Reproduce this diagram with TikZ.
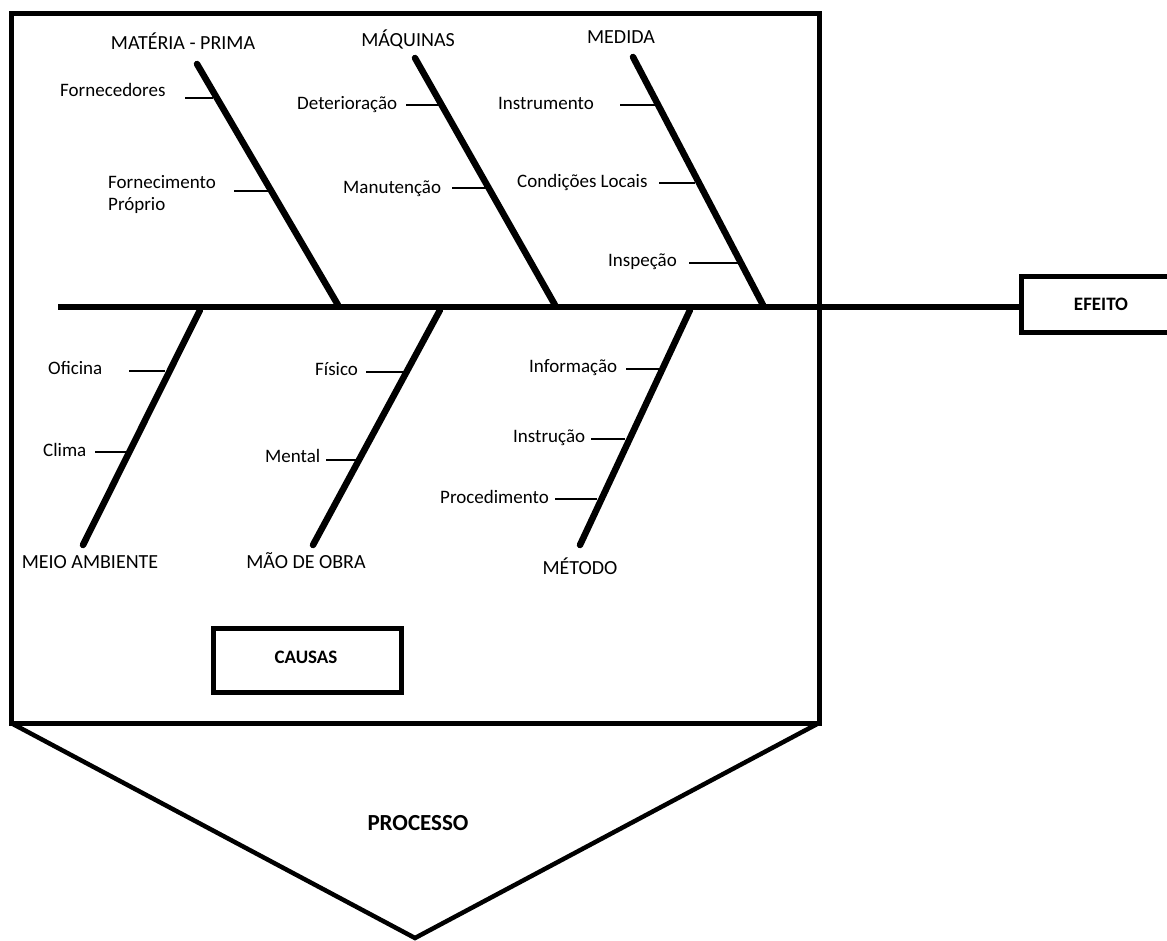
\documentclass[tikz,border=0pt]{standalone}
\usepackage{fontspec}
\setmainfont{Carlito}
\begin{document}
\begin{tikzpicture}[x=1pt,y=-1pt,
  frame/.style={line width=5pt},
  bone/.style={line width=6.5pt,line cap=round},
  spine/.style={line width=6pt},
  tick/.style={line width=1.4pt},
  sub/.style={font=\fontsize{19}{22}\selectfont,anchor=west,inner sep=0pt,text height=1.15em,text depth=0.03em},
  cat/.style={font=\fontsize{20}{24}\selectfont,inner sep=0pt,text height=1.15em,text depth=0.03em},
  boldbox/.style={draw,line width=5pt,font=\bfseries\fontsize{19}{22}\selectfont,inner sep=0pt}]
\useasboundingbox (0,0) rectangle (1167,940);
\clip (0,0) rectangle (1167,940);

% frame and process shape
\coordinate (fTL) at (11,13);
\coordinate (fBR) at (819,723);
\coordinate (fBL) at (11,723);
\coordinate (fTR) at (819,13);
\coordinate (tip) at (415,938);
\draw[frame] (fTL) rectangle (fBR);
\draw[line width=4.5pt,line join=miter] (fBL) -- (tip) -- (fTR |- fBL);
\node[font=\bfseries\fontsize{23}{26}\selectfont] (processo) at (418,823) {PROCESSO};

% effect and spine
\node[boldbox,minimum width=160pt,minimum height=56pt] (efeito) at (1101,304) {EFEITO};
\coordinate (tail) at (58,307);
\draw[spine] (tail) -- (tail -| efeito.west);

% causes box
\node[draw,line width=5pt,minimum width=188pt,minimum height=64pt] (causas) at (307,660) {};
\node[font=\bfseries\fontsize{19}{22}\selectfont,inner sep=0pt] (causastxt) at (306,657) {CAUSAS};

% upper bones
\coordinate (mpA) at (197,64);  \coordinate (mpB) at (338,305);
\coordinate (mqA) at (415,58);  \coordinate (mqB) at (555,305);
\coordinate (mdA) at (633,57);  \coordinate (mdB) at (763,305);
\draw[bone] (mpA) -- (mpB);
\draw[bone] (mqA) -- (mqB);
\draw[bone] (mdA) -- (mdB);

% lower bones
\coordinate (maA) at (200,310); \coordinate (maB) at (83,545);
\coordinate (moA) at (440,310); \coordinate (moB) at (313,545);
\coordinate (meA) at (690,310); \coordinate (meB) at (580,545);
\draw[bone] (maA) -- (maB);
\draw[bone] (moA) -- (moB);
\draw[bone] (meA) -- (meB);

% category labels
\node[cat] (lmp) at (183,44) {MATÉRIA - PRIMA};
\node[cat] (lmq) at (408,41) {MÁQUINAS};
\node[cat] (lmd) at (621,38) {MEDIDA};
\node[cat] (lma) at (90,563) {MEIO AMBIENTE};
\node[cat] (lmo) at (306,563) {MÃO DE OBRA};
\node[cat] (lme) at (580,569) {MÉTODO};

% sub-cause labels
\node[sub] (s1) at (60,91) {Fornecedores};
\node[sub,align=left,text height=,text depth=] (s2) at (108,194) {Fornecimento\\Próprio};
\node[sub] (s3) at (297,104) {Deterioração};
\node[sub] (s4) at (343,188) {Manutenção};
\node[sub] (s5) at (498,104) {Instrumento};
\node[sub] (s6) at (517,182) {Condições Locais};
\node[sub] (s7) at (608,261) {Inspeção};
\node[sub] (s8) at (48,369) {Oficina};
\node[sub] (s9) at (43,451) {Clima};
\node[sub] (s10) at (315,370) {Físico};
\node[sub] (s11) at (265,457) {Mental};
\node[sub] (s12) at (529,367) {Informação};
\node[sub] (s13) at (513,437) {Instrução};
\node[sub] (s14) at (440,498) {Procedimento};

% ticks
\coordinate (t1a) at (185,98);  \coordinate (t1b) at (213,98);
\coordinate (t2a) at (234,191); \coordinate (t2b) at (270,191);
\coordinate (t3a) at (406,105); \coordinate (t3b) at (442,105);
\coordinate (t4a) at (452,188); \coordinate (t4b) at (486,188);
\coordinate (t5a) at (620,105); \coordinate (t5b) at (655,105);
\coordinate (t6a) at (659,183); \coordinate (t6b) at (695,183);
\coordinate (t7a) at (689,263); \coordinate (t7b) at (738,263);
\coordinate (t8a) at (129,371); \coordinate (t8b) at (165,371);
\coordinate (t9a) at (95,452);  \coordinate (t9b) at (127,452);
\coordinate (t10a) at (366,372); \coordinate (t10b) at (404,372);
\coordinate (t11a) at (326,460); \coordinate (t11b) at (356,460);
\coordinate (t12a) at (626,369); \coordinate (t12b) at (660,369);
\coordinate (t13a) at (591,439); \coordinate (t13b) at (625,439);
\coordinate (t14a) at (555,499); \coordinate (t14b) at (597,499);
\foreach \i in {1,...,14} {\draw[tick] (t\i a) -- (t\i b);}
\end{tikzpicture}
\end{document}
